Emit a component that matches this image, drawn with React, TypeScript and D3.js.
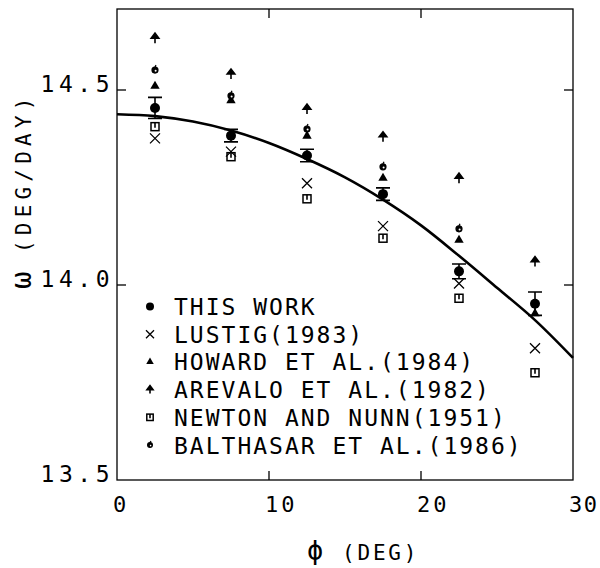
import React, { useEffect, useRef } from 'react';
import * as d3 from 'd3';

// latitude bands (deg) and rotation rates (deg/day)
const phiBands = [2.5, 7.5, 12.5, 17.5, 22.5, 27.5];
const thisWork = [14.454, 14.383, 14.332, 14.233, 14.035, 13.952];
const thisWorkErr = [0.027, 0.016, 0.016, 0.016, 0.019, 0.03];
const lustig = [14.376, 14.342, 14.261, 14.151, 14.004, 13.838];
const howard = [14.51, 14.473, 14.382, 14.274, 14.115, 13.927];
const arevalo = [14.633, 14.541, 14.451, 14.38, 14.274, 14.06];
const newton = [14.406, 14.329, 14.221, 14.12, 13.966, 13.775];
const balthasar: (number | null)[] = [14.551, 14.485, 14.4, 14.303, 14.144, null];

// fitted curve
const fitPhi = [0, 2.5, 5, 7.5, 10, 12.5, 15, 17.5, 20, 22.5, 25, 27.5, 30];
const fitOmega = [14.438, 14.433, 14.419, 14.396, 14.364, 14.323, 14.276, 14.219, 14.153, 14.075, 13.993, 13.91, 13.813];

const xTicks = [0, 10, 20, 30];
const yTicks = [13.5, 14.0, 14.5];
const yTickLabels = ['13.5', '14.0', '14.5'];

const legendLabels = [
  'THIS WORK',
  'LUSTIG(1983)',
  'HOWARD ET AL.(1984)',
  'AREVALO ET AL.(1982)',
  'NEWTON AND NUNN(1951)',
  'BALTHASAR ET AL.(1986)',
];

const FONT = '"DejaVu Sans Mono", monospace';

type G = d3.Selection<SVGGElement, unknown, null, undefined>;

function drawMarker(g: G, kind: string, x: number, y: number, s = 1) {
  switch (kind) {
    case 'dot':
      g.append('circle').attr('cx', x).attr('cy', y).attr('r', 5 * s).attr('fill', '#000');
      break;
    case 'cross':
      g.append('path')
        .attr('d', `M${x - 5 * s},${y - 5 * s}L${x + 5 * s},${y + 5 * s}M${x - 5 * s},${y + 5 * s}L${x + 5 * s},${y - 5 * s}`)
        .attr('stroke', '#000').attr('stroke-width', 1.3).attr('fill', 'none');
      break;
    case 'tri':
      g.append('path')
        .attr('d', d3.symbol().type(d3.symbolTriangle).size(38 * s * s)())
        .attr('transform', `translate(${x},${y})`)
        .attr('fill', '#000');
      break;
    case 'arrow':
      g.append('path')
        .attr('d', `M${x},${y + 5 * s}L${x},${y - 1}M${x - 3.8 * s},${y}L${x + 3.8 * s},${y}L${x},${y - 5 * s}Z`)
        .attr('stroke', '#000').attr('stroke-width', 1.6).attr('fill', '#000');
      break;
    case 'square':
      g.append('rect')
        .attr('x', x - 4 * s).attr('y', y - 4 * s).attr('width', 8 * s).attr('height', 8 * s)
        .attr('fill', 'none').attr('stroke', '#000').attr('stroke-width', 1.5);
      g.append('path')
        .attr('d', `M${x},${y - 4 * s}L${x},${y + 1}`)
        .attr('stroke', '#000').attr('stroke-width', 1.6);
      break;
    case 'ring':
      g.append('circle').attr('cx', x).attr('cy', y).attr('r', 3 * s)
        .attr('fill', '#000').attr('stroke', '#000').attr('stroke-width', 1.2);
      g.append('circle').attr('cx', x + 0.6).attr('cy', y + 0.6).attr('r', 1 * s)
        .attr('fill', '#fff');
      g.append('path').attr('d', `M${x},${y - 3 * s}L${x + 1},${y - 5 * s}`)
        .attr('stroke', '#000').attr('stroke-width', 1.2);
      break;
  }
}

const App: React.FC = () => {
  const svgRef = useRef<SVGSVGElement>(null);

  useEffect(() => {
    const svg = d3.select(svgRef.current);
    svg.selectAll('*').remove();

    const left = 117, right = 573, top = 9, bottom = 480;

    const x = d3.scaleLinear().domain([0, 30]).range([left, right]);
    const y = d3.scaleLinear().domain([13.5, 14.5]).range([bottom, 90]);

    const g = svg.append('g') as unknown as G;

    // frame
    g.append('rect')
      .attr('x', left).attr('y', top)
      .attr('width', right - left).attr('height', bottom - top)
      .attr('fill', 'none').attr('stroke', '#000').attr('stroke-width', 1.3);

    // inward ticks on all four sides
    const tickLen = 9;
    [10, 20].forEach(t => {
      g.append('line').attr('x1', x(t)).attr('x2', x(t)).attr('y1', bottom).attr('y2', bottom - tickLen)
        .attr('stroke', '#000').attr('stroke-width', 1.3);
      g.append('line').attr('x1', x(t)).attr('x2', x(t)).attr('y1', top).attr('y2', top + tickLen)
        .attr('stroke', '#000').attr('stroke-width', 1.3);
    });
    [14.0, 14.5].forEach(t => {
      g.append('line').attr('x1', left).attr('x2', left + tickLen).attr('y1', y(t)).attr('y2', y(t))
        .attr('stroke', '#000').attr('stroke-width', 1.3);
      g.append('line').attr('x1', right).attr('x2', right - tickLen).attr('y1', y(t)).attr('y2', y(t))
        .attr('stroke', '#000').attr('stroke-width', 1.3);
    });

    // tick labels
    xTicks.forEach(t => {
      g.append('text')
        .attr('x', x(t) - 4).attr('y', 512)
        .attr('font-family', FONT).attr('font-size', 22)
        .attr('letter-spacing', t === 30 ? 1.5 : 3)
        .text(String(t));
    });
    yTicks.forEach((t, i) => {
      g.append('text')
        .attr('x', 114).attr('y', y(t) + 2)
        .attr('text-anchor', 'end')
        .attr('font-family', FONT).attr('font-size', 23)
        .attr('letter-spacing', 4.5)
        .text(yTickLabels[i]);
    });

    // axis titles
    g.append('text')
      .attr('transform', 'translate(31,289) rotate(-90)')
      .attr('font-family', FONT).attr('font-size', 29)
      .text('ω');
    g.append('text')
      .attr('transform', 'translate(31,253) rotate(-90)')
      .attr('font-family', FONT).attr('font-size', 21)
      .attr('letter-spacing', 5.2)
      .text('(DEG/DAY)');
    g.append('text')
      .attr('x', 307).attr('y', 559)
      .attr('font-family', FONT).attr('font-size', 27)
      .text('ϕ');
    g.append('text')
      .attr('x', 342).attr('y', 560)
      .attr('font-family', FONT).attr('font-size', 21)
      .attr('letter-spacing', 2.8)
      .text('(DEG)');

    // fitted curve
    const line = d3.line<number>()
      .x((_, i) => x(fitPhi[i]))
      .y(d => y(d))
      .curve(d3.curveCatmullRom);
    g.append('path')
      .datum(fitOmega)
      .attr('d', line)
      .attr('fill', 'none').attr('stroke', '#000').attr('stroke-width', 2.6);

    // other observations
    const series: [(number | null)[], string][] = [
      [lustig, 'cross'],
      [howard, 'tri'],
      [arevalo, 'arrow'],
      [newton, 'square'],
      [balthasar, 'ring'],
    ];
    series.forEach(([vals, kind]) => {
      vals.forEach((v, i) => {
        if (v == null) return;
        drawMarker(g, kind, x(phiBands[i]), y(v));
      });
    });

    // this work with error bars
    thisWork.forEach((v, i) => {
      const cx = x(phiBands[i]);
      const y1 = y(v + thisWorkErr[i]);
      const y2 = y(v - thisWorkErr[i]);
      g.append('path')
        .attr('d', `M${cx},${y1}L${cx},${y2}M${cx - 7},${y1}L${cx + 7},${y1}M${cx - 7},${y2}L${cx + 7},${y2}`)
        .attr('stroke', '#000').attr('stroke-width', 1.6).attr('fill', 'none');
      drawMarker(g, 'dot', cx, y(v));
    });

    // legend
    const kinds = ['dot', 'cross', 'tri', 'arrow', 'square', 'ring'];
    legendLabels.forEach((label, i) => {
      const ly = 306.5 + i * 27.7;
      drawMarker(g, kinds[i], 150, ly, 0.8);
      g.append('text')
        .attr('x', 174).attr('y', ly + 8.5)
        .attr('font-family', FONT).attr('font-size', 23)
        .attr('letter-spacing', 2.0)
        .text(label);
    });
  }, []);

  return (
    <svg
      ref={svgRef}
      width={600}
      height={568}
      style={{ position: 'absolute', left: 0, top: 0, background: '#fff' }}
    />
  );
};

export default App;
